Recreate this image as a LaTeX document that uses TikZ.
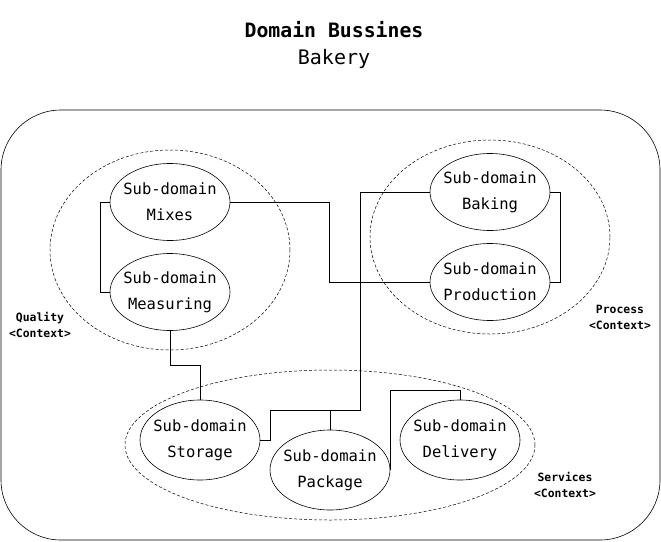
\documentclass[tikz,border=0pt]{standalone}
\usepackage{fontspec}
\setmainfont{DejaVu Sans Mono}
\usetikzlibrary{shapes.geometric}
\tikzset{
    subdomain/.style={draw, ellipse, minimum width=120pt, minimum height=77pt, inner xsep=-5pt, inner ysep=0pt,
        align=center, font=\fontsize{15.5}{26}\selectfont},
    context/.style={draw, ellipse, dash pattern=on 3pt off 2pt, line width=0.5pt},
    ctxlabel/.style={align=center, font=\bfseries\fontsize{11.4}{16}\selectfont},
    link/.style={line width=0.7pt}
}
\begin{document}
\begin{tikzpicture}[x=1pt, y=-1pt, line width=0.6pt]
    \useasboundingbox (0,0) rectangle (661,541);
    % title
    \node[font=\bfseries\fontsize{19.8}{24}\selectfont] (title) at (334,30) {Domain Bussines};
    \node[font=\fontsize{20}{24}\selectfont] (bakery) at (334,59) {Bakery};
    % domain frame
    \draw[rounded corners=60pt] (1,110) rectangle (660,540);
    % contexts
    \node[context, minimum width=240pt, minimum height=200pt] (quality) at (170,250) {};
    \node[context, minimum width=240pt, minimum height=194pt] (process) at (490,237) {};
    \node[context, minimum width=410pt, minimum height=150pt] (services) at (330,445) {};
    \node[ctxlabel] (qlabel) at (40,325) {Quality\\<Context>};
    \node[ctxlabel] (plabel) at (620,317) {Process\\<Context>};
    \node[ctxlabel] (slabel) at (565,485) {Services\\<Context>};
    % sub-domains
    \node[subdomain] (mixes) at (170,202) {Sub-domain\\Mixes};
    \node[subdomain] (measuring) at (170,292) {Sub-domain\\Measuring};
    \node[subdomain] (baking) at (490,192) {Sub-domain\\Baking};
    \node[subdomain] (production) at (490,282) {Sub-domain\\Production};
    \node[subdomain, minimum height=80pt] (storage) at (200,440) {Sub-domain\\Storage};
    \node[subdomain, minimum height=80pt] (package) at (330,470) {Sub-domain\\Package};
    \node[subdomain, minimum height=80pt] (delivery) at (460,440) {Sub-domain\\Delivery};
    % links
    \draw[link] (mixes.west) -- ++(-9,0) |- (measuring.west);
    \draw[link] (baking.east) -- ++(10,0) |- (production.east);
    \draw[link] (mixes.east) -- ++(99,0) |- (production.west);
    \draw[link] (measuring.south) |- (200,365) -- (storage.north);
    \draw[link] (baking.west) -| (360,410) -| (270,440) -- (storage.east);
    \draw[link] (package.north) -- ++(0,-20);
    \draw[link] (package.east) |- (460,390) -- (delivery.north);
\end{tikzpicture}
\end{document}
